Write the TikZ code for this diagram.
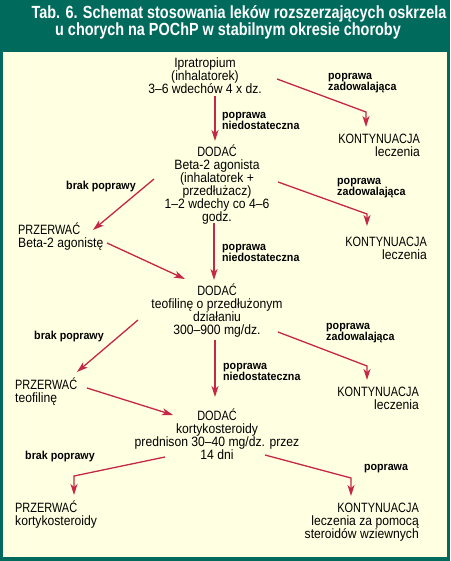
\documentclass[tikz,border=0pt]{standalone}
\usepackage{fontspec}
\setmainfont{Liberation Sans}
\newfontfamily\bodyf[FakeStretch=0.9]{Liberation Sans}
\newfontfamily\capf[FakeStretch=0.81]{Liberation Sans}
\newfontfamily\labf[FakeStretch=0.93]{Liberation Sans}
\newfontfamily\titf[FakeStretch=0.82]{Liberation Sans}
\usetikzlibrary{calc,arrows.meta}
\definecolor{bgteal}{RGB}{0,106,92}
\definecolor{creamy}{RGB}{255,255,225}
\definecolor{arrred}{RGB}{196,40,70}
\newcommand{\CP}[1]{{\capf #1}}
\tikzset{
  titletext/.style={font=\titf\bfseries\fontsize{17.6}{18}\selectfont, text=white, inner sep=0pt},
  body/.style={font=\bodyf\fontsize{13.5}{13}\selectfont, inner sep=0pt, align=center},
  bodyl/.style={body, align=left, anchor=west},
  bodyr/.style={body, align=right, anchor=east},
  lab/.style={font=\labf\bfseries\fontsize{11.5}{11}\selectfont, inner sep=0pt, align=left},
  arr/.style={draw=arrred, line width=1.3pt, -{Stealth[length=11pt,width=7pt,inset=3pt]}}
}
\begin{document}
\begin{tikzpicture}[x=1pt,y=-1pt]
\fill[bgteal] (0,0) rectangle (450,561);
\useasboundingbox (0,0) rectangle (450,561);
\fill[creamy] (3,52) rectangle (447,557);

\node[titletext, anchor=base] (t1) at (239,19) {Tab. 6. Schemat stosowania leków rozszerzających oskrzela};
\node[titletext, anchor=base] (t2) at (228,36) {u chorych na POChP w stabilnym okresie choroby};

% main nodes
\node[body] (n1) at (205,76) {Ipratropium\\(inhalatorek)\\3–6 wdechów 4 x dz.};
\node[body] (n2) at (217,185) {\CP{DODAĆ}\\Beta-2 agonista\\(inhalatorek +\\przedłużacz)\\1–2 wdechy co 4–6\\godz.};
\node[body] (n3) at (217,311) {\CP{DODAĆ}\\teofilinę o przedłużonym\\działaniu\\300–900 mg/dz.};
\node[body] (n4) at (217,434) {\CP{DODAĆ}\\kortykosteroidy\\prednison 30–40 mg/dz. przez\\14 dni};

\node[bodyr] (k1) at (420,145) {\CP{KONTYNUACJA}\\leczenia};
\node[bodyr] (k2) at (427,248) {\CP{KONTYNUACJA}\\leczenia};
\node[bodyr] (k3) at (419,398) {\CP{KONTYNUACJA}\\leczenia};
\node[bodyr] (k4) at (419,522) {\CP{KONTYNUACJA}\\leczenia za pomocą\\steroidów wziewnych};

\node[bodyl] (p1) at (18,237) {\CP{PRZERWAĆ}\\Beta-2 agonistę};
\node[bodyl] (p2) at (15,392) {\CP{PRZERWAĆ}\\teofilinę};
\node[bodyl] (p3) at (15,515) {\CP{PRZERWAĆ}\\kortykosteroidy};

% labels
\node[lab, anchor=west] (l1) at (222,121) {poprawa\\niedostateczna};
\node[lab, anchor=west] (l2) at (328,83) {poprawa\\zadowalająca};
\node[lab] (l3) at (101,187) {brak poprawy};
\node[lab, anchor=west] (l4) at (337,188) {poprawa\\zadowalająca};
\node[lab, anchor=west] (l5) at (222,253) {poprawa\\niedostateczna};
\node[lab] (l6) at (69,337) {brak poprawy};
\node[lab, anchor=west] (l7) at (326,333) {poprawa\\zadowalająca};
\node[lab, anchor=west] (l8) at (223,372) {poprawa\\niedostateczna};
\node[lab] (l9) at (60,457) {brak poprawy};
\node[lab] (l10) at (386,469) {poprawa};

% arrows
\draw[arr] ($(n1)+(10,20)$) -- ($(n2)+(-2,-44)$);
\draw[arr] ($(n1)+(72,3)$) -- ($(k1.east)+(-54,-33)$) -- ($(k1.east)+(-54,-18)$);
\draw[arr] ($(n2)+(-63,-6)$) -- ($(p1.west)+(75,-7)$);
\draw[arr] ($(p1.west)+(89,6)$) -- ($(n3)+(-32,-32)$);
\draw[arr] ($(n2)+(61,-3)$) -- ($(k2.east)+(-60,-34)$) -- ($(k2.east)+(-60,-22)$);
\draw[arr] ($(n2)+(-3,38)$) -- ($(n3)+(-3,-31)$);
\draw[arr] ($(n3)+(-79,9)$) -- ($(p2.west)+(62,-20)$);
\draw[arr] ($(p2.west)+(72,-4)$) -- ($(n4)+(-44,-19)$);
\draw[arr] ($(n3)+(-2,29)$) -- ($(n4)+(-2,-37)$);
\draw[arr] ($(n3)+(61,21)$) -- ($(k3.east)+(-52,-32)$) -- ($(k3.east)+(-52,-18)$);
\draw[arr] ($(n4)+(-52,23)$) -- ($(p3.west)+(59,-39)$) -- ($(p3.west)+(59,-20)$);
\draw[arr] ($(n4)+(48,21)$) -- ($(k4.east)+(-68,-44)$) -- ($(k4.east)+(-68,-26)$);
\end{tikzpicture}
\end{document}
